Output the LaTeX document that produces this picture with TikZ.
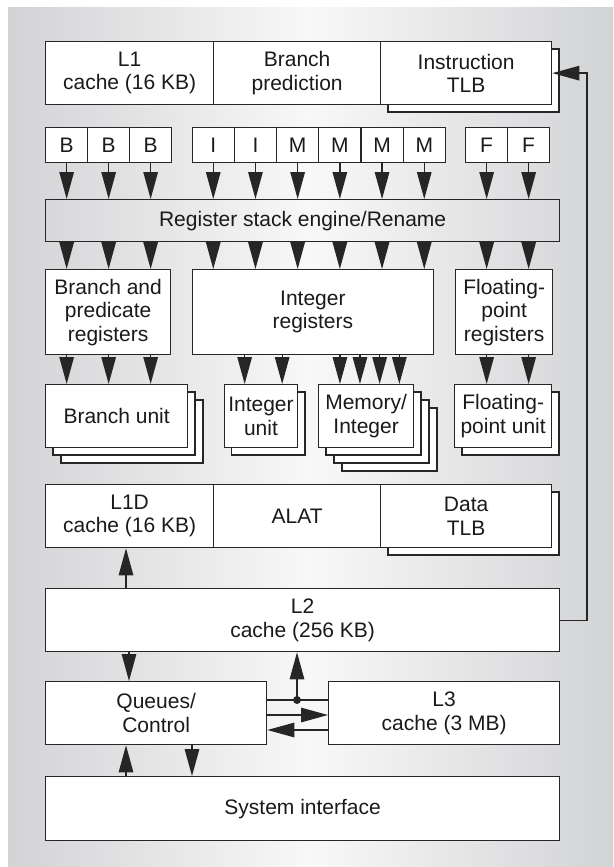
\documentclass[tikz,border=0pt]{standalone}
\usepackage{fontspec}
\setmainfont{Liberation Sans}
\usetikzlibrary{arrows.meta,calc}
\definecolor{bgc}{HTML}{D2D3D5}
\definecolor{bgm}{HTML}{F8F8F8}
\definecolor{lc}{HTML}{262626}
\definecolor{tc}{HTML}{1A1A1A}
\begin{document}
\begin{tikzpicture}[x=1pt,y=-1pt,
  box/.style={draw=lc, fill=white, line width=1.3pt, inner sep=0pt, anchor=north west,
    align=center, text=tc, font=\fontsize{21}{23.5}\selectfont},
  barbox/.style={box, fill=none},
  shadowbox/.style={draw=lc, fill=white, line width=1.3pt},
  arr/.style={draw=lc, line width=1.3pt, -{Triangle[length=27pt,width=14.5pt]}},
  conn/.style={draw=lc, line width=1.3pt}]
\useasboundingbox (0,0) rectangle (613,867);
% background panel
\shade[left color=bgc, right color=bgc, middle color=bgm] (8,8) rectangle (613,867);

% top row
\node[box, minimum width=168pt, minimum height=63pt] (l1) at (45,41) {L1\\cache (16 KB)};
\node[box, minimum width=167pt, minimum height=63pt] (bp) at (213,41) {Branch\\prediction};
\draw[shadowbox] (388,49) rectangle (559,112);
\node[box, minimum width=171pt, minimum height=63pt] (itlb) at (380,41) {Instruction\\TLB};

% issue slots
\node[box, minimum width=42pt, minimum height=35pt] (b1) at (45,127) {B};
\node[box, minimum width=42pt, minimum height=35pt] (b2) at (87,127) {B};
\node[box, minimum width=42pt, minimum height=35pt] (b3) at (129,127) {B};
\node[box, minimum width=42.2pt, minimum height=35pt] (i1) at (191.5,127) {I};
\node[box, minimum width=42.2pt, minimum height=35pt] (i2) at (233.7,127) {I};
\node[box, minimum width=42.2pt, minimum height=35pt] (m1) at (275.9,127) {M};
\node[box, minimum width=42.2pt, minimum height=35pt] (m2) at (318.1,127) {M};
\node[box, minimum width=42.2pt, minimum height=35pt] (m3) at (360.3,127) {M};
\node[box, minimum width=42.2pt, minimum height=35pt] (m4) at (402.5,127) {M};
\node[box, minimum width=42pt, minimum height=35pt] (f1) at (465,127) {F};
\node[box, minimum width=42pt, minimum height=35pt] (f2) at (507,127) {F};

% rename bar
\node[barbox, minimum width=514pt, minimum height=42pt] (bar) at (45,199) {Register stack engine/Rename};

% registers
\node[box, minimum width=125pt, minimum height=85pt] (breg) at (45,269) {Branch and\\predicate\\registers};
\node[box, minimum width=241.5pt, minimum height=85pt] (ireg) at (191.5,269) {Integer\\registers};
\node[box, minimum width=97pt, minimum height=85pt] (freg) at (455,269) {Floating-\\point\\registers};

% arrows slots -> bar -> registers
\foreach \s/\r in {b1/breg,b2/breg,b3/breg,i1/ireg,i2/ireg,m1/ireg,m2/ireg,m3/ireg,m4/ireg,f1/freg,f2/freg}{
  \draw[arr] (\s.south) -- (\s.south |- bar.north);
  \draw[arr] (\s.south |- bar.south) -- (\s.south |- \r.north);
}

% units with stacked shadows
\draw[shadowbox] (61,400) rectangle (203,463);
\draw[shadowbox] (53,392) rectangle (195,455);
\node[box, minimum width=142pt, minimum height=63pt] (bunit) at (45,384) {Branch unit};
\draw[shadowbox] (231.6,392) rectangle (305,455);
\node[box, minimum width=73.4pt, minimum height=63pt] (iunit) at (223.6,384) {Integer\\unit};
\draw[shadowbox] (342,408) rectangle (437,471);
\draw[shadowbox] (334,400) rectangle (429,463);
\draw[shadowbox] (326,392) rectangle (421,455);
\node[box, minimum width=95pt, minimum height=63pt] (munit) at (318,384) {Memory/\\Integer};
\draw[shadowbox] (462,392) rectangle (559,455);
\node[box, minimum width=97pt, minimum height=63pt] (funit) at (454,384) {Floating-\\point unit};

% registers -> units
\foreach \s in {b1,b2,b3}{ \draw[arr] (\s.south |- breg.south) -- (\s.south |- bunit.north); }
\coordinate (u1) at ([xshift=-16.3pt]iunit.north);
\coordinate (u2) at ([xshift=21.2pt]iunit.north);
\foreach \u in {u1,u2}{ \draw[arr] (\u |- ireg.south) -- (\u); }
\coordinate (v1) at ([xshift=-26.2pt]munit.north);
\coordinate (v2) at ([xshift=-6.2pt]munit.north);
\coordinate (v3) at ([xshift=13.5pt]munit.north);
\coordinate (v4) at ([xshift=33.2pt]munit.north);
\foreach \v in {v1,v2,v3,v4}{ \draw[arr] (\v |- ireg.south) -- (\v); }
\foreach \s in {f1,f2}{ \draw[arr] (\s.south |- freg.south) -- (\s.south |- funit.north); }

% data row
\node[box, minimum width=168pt, minimum height=63pt] (l1d) at (45,484) {L1D\\cache (16 KB)};
\node[box, minimum width=167pt, minimum height=63pt] (alat) at (213,484) {ALAT};
\draw[shadowbox] (388,492) rectangle (559,555);
\node[box, minimum width=171pt, minimum height=63pt] (dtlb) at (380,484) {Data\\TLB};

% L2
\node[box, minimum width=514pt, minimum height=63pt] (l2) at (45,588) {L2\\cache (256 KB)};
\coordinate (xa) at (126,0);
\draw[arr] (xa |- l2.north) -- (xa |- l1d.south);
\coordinate (rc) at (587,0);
\draw[arr] (l2.east) -| (rc |- itlb.east) -- (itlb.east);

% queues and L3
\node[box, minimum width=221pt, minimum height=63pt] (q) at (45,681) {Queues/\\Control};
\node[box, minimum width=231pt, minimum height=63pt] (l3) at (328,681) {L3\\cache (3 MB)};
\coordinate (xb) at (129,0);
\draw[arr] (xb |- l2.south) -- (xb |- q.north);
\coordinate (h1) at (297,700);
\coordinate (h2) at (0,715);
\coordinate (h3) at (0,730);
\draw[conn] (q.east |- h1) -- (l3.west |- h1);
\fill[lc] (h1) circle (4pt);
\draw[arr] (h1) -- (h1 |- l2.south);
\draw[arr] (q.east |- h2) -- (l3.west |- h2);
\draw[arr] (l3.west |- h3) -- (q.east |- h3);

% system interface
\node[box, minimum width=514pt, minimum height=64pt] (sys) at (45,776) {System interface};
\coordinate (xc) at (126,0);
\coordinate (xd) at (192,0);
\draw[arr] (xc |- sys.north) -- (xc |- q.south);
\draw[arr] (xd |- q.south) -- (xd |- sys.north);
\end{tikzpicture}
\end{document}
